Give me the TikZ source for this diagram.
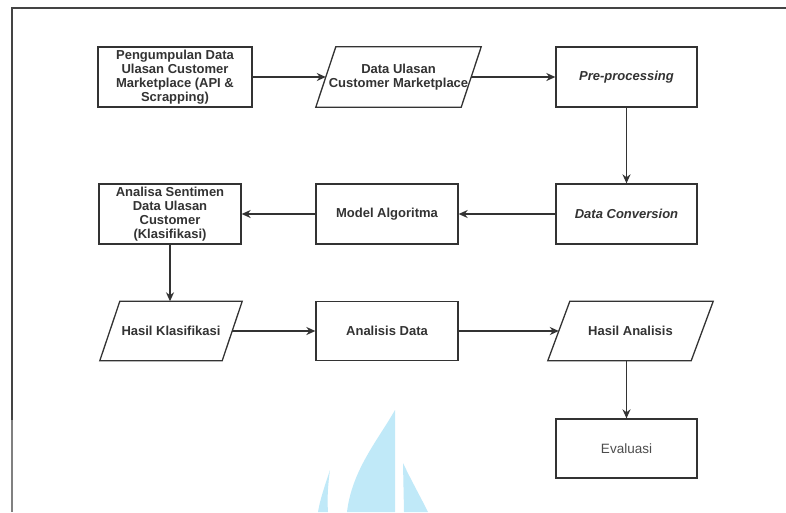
\documentclass[tikz,border=0pt]{standalone}
\usepackage{fontspec}
\setmainfont{Liberation Sans}
\usetikzlibrary{arrows.meta}
\definecolor{ink}{HTML}{333333}
\definecolor{frame}{HTML}{444444}
\definecolor{wm}{RGB}{192,233,248}
\tikzset{
  box/.style={draw=ink, line width=1.3pt, minimum height=60pt, inner sep=0pt, align=center,
              text=ink, font=\fontsize{13}{13.8}\selectfont\bfseries},
  para/.style={draw=none, minimum height=60pt, inner sep=0pt, align=center,
              text=ink, font=\fontsize{13}{13.8}\selectfont\bfseries},
  conn/.style={draw=ink, line width=1.4pt, -{Stealth[length=9pt,width=8pt]}},
  pline/.style={draw=ink, line width=1.3pt, line join=miter}
}
\begin{document}
\begin{tikzpicture}[x=1pt,y=-1pt]
\useasboundingbox (0,0) rectangle (786,512);
\fill[white] (0,0) rectangle (786,512);
% watermark
\fill[wm] (395,410) .. controls (378,440) and (352,470) .. (347,512) -- (395,512) -- cycle;
\fill[wm] (330,470) .. controls (324,488) and (320,500) .. (318,512) -- (328,512) .. controls (327,498) and (328,484) .. (330,470) -- cycle;
\fill[wm] (403,463) .. controls (411,480) and (420,496) .. (428,512) -- (404,512) -- cycle;
% frame
\draw[frame, line width=2pt] (786,8) -- (12,8) -- (12,420);
\draw[gray, line width=1.6pt] (12,420) -- (12,512);
% nodes
\node[box, minimum width=154pt] (b1) at (175,77) {Pengumpulan Data\\Ulasan Customer\\Marketplace (API \&\\Scrapping)};
\node[para, minimum width=145pt] (p2) at (398.5,77) {Data Ulasan\\Customer Marketplace};
\node[box, minimum width=141pt] (pre) at (626.5,77) {\itshape Pre-processing};
\node[box, minimum width=141pt] (dc) at (626.5,214) {\itshape Data Conversion};
\node[box, minimum width=142pt] (ma) at (387,214) {Model Algoritma};
\node[box, minimum width=142pt] (as) at (170,214) {Analisa Sentimen\\Data Ulasan\\Customer\\(Klasifikasi)};
\node[para, minimum width=122pt, minimum height=59pt] (hk) at (171,331) {Hasil Klasifikasi};
\node[box, minimum width=142pt, minimum height=59pt] (ad) at (387,331) {Analisis Data};
\node[para, minimum width=143pt, minimum height=59pt] (ha) at (630.5,331) {Hasil Analisis};
\node[box, minimum width=141pt, minimum height=59pt, font=\fontsize{13.5}{14}\selectfont, text=gray!60!black] (ev) at (626.5,448.5) {Evaluasi};
% parallelograms
\draw[pline] ([xshift=-10pt]p2.south west) -- ([xshift=-10pt]p2.south east) -- ([xshift=10pt]p2.north east) -- ([xshift=10pt]p2.north west) -- cycle;
\draw[pline] ([xshift=-10pt]hk.south west) -- ([xshift=-10pt]hk.south east) -- ([xshift=10pt]hk.north east) -- ([xshift=10pt]hk.north west) -- cycle;
\draw[pline] ([xshift=-11pt]ha.south west) -- ([xshift=-11pt]ha.south east) -- ([xshift=11pt]ha.north east) -- ([xshift=11pt]ha.north west) -- cycle;
% connectors
\draw[conn] (b1.east) -- (p2.west);
\draw[conn] (p2.east) -- (pre.west);
\draw[conn] (pre.south) -- (dc.north);
\draw[conn] (dc.west) -- (ma.east);
\draw[conn] (ma.west) -- (as.east);
\draw[conn] (as.south) -- (as.south |- hk.north);
\draw[conn] (hk.east) -- (ad.west);
\draw[conn] (ad.east) -- (ha.west);
\draw[conn] (ev.north |- ha.south) -- (ev.north);
\end{tikzpicture}
\end{document}
